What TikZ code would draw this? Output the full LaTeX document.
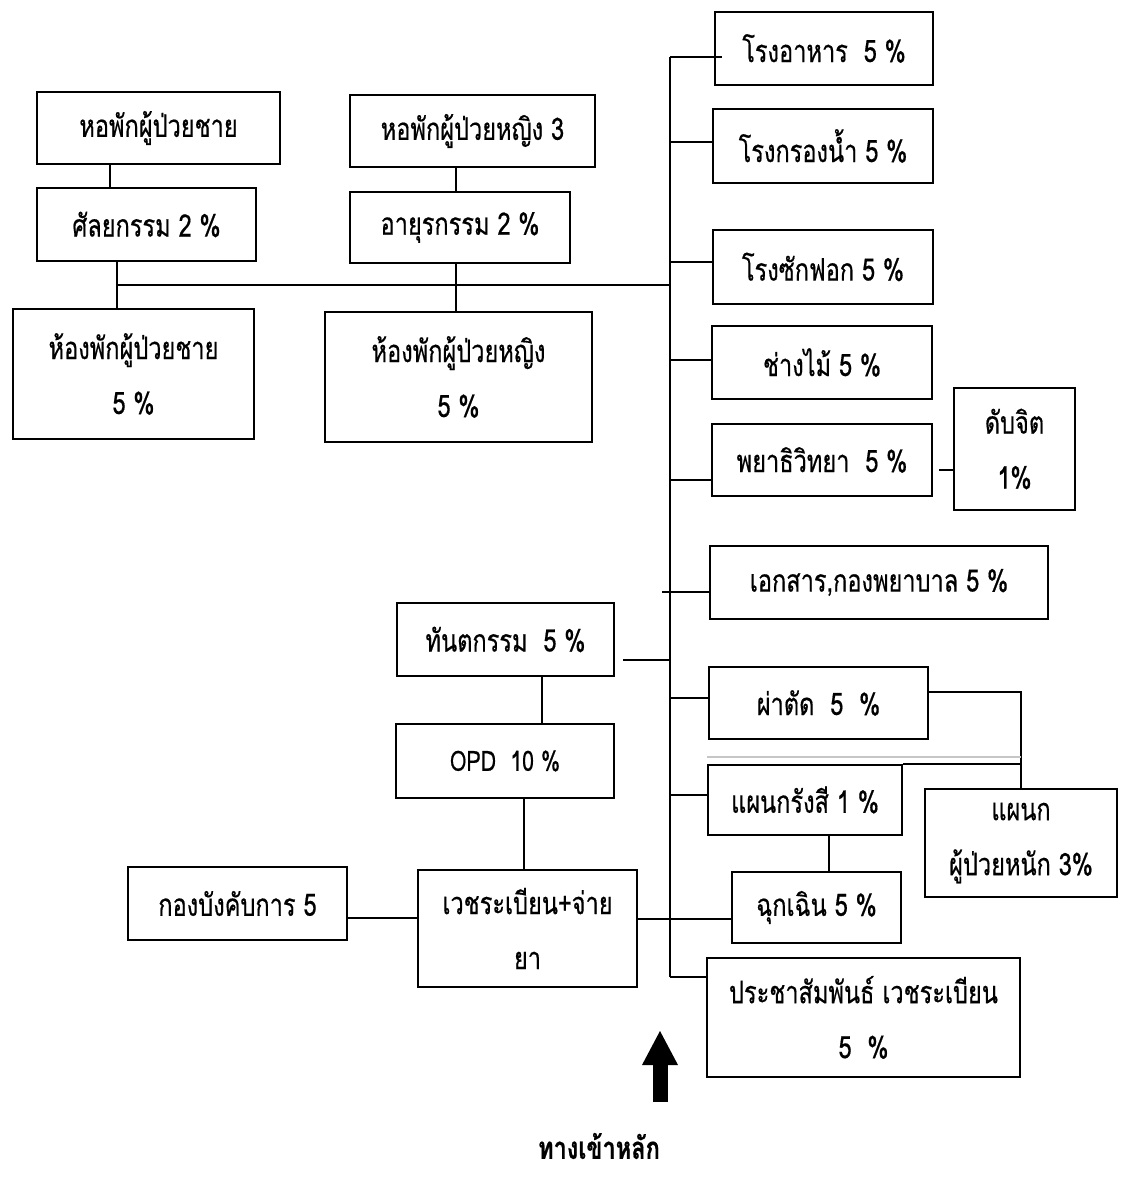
\documentclass[tikz,border=0pt]{standalone}
\usepackage{fontspec}
\usepackage{tikz}
\usetikzlibrary{arrows.meta}
\newfontfamily\thaifont[Script=Thai, FakeStretch=0.76, FakeBold=0.5]{Loma}
\tikzset{
	unit/.style={draw, line width=0.9pt, inner sep=2pt, align=center, font=\thaifont\fontsize{15.5}{27.5}\selectfont},
	link/.style={line width=0.9pt},
}
\newcommand{\unitBox}[7][]{
	\path (#2,#3) node[unit, minimum width=#4*0.5pt, minimum height=#5*0.5pt, #1](#6){#7};
}
\newcommand{\edge}[3][]{
	\draw[link, #1] (#2) -- (#3);
}
\newcommand{\branch}[3][]{
	\draw[link, #1] (trunk |- 0,#2) -- (#3.west |- 0,#2);
}

\begin{document}
\begin{tikzpicture}[x=0.5pt, y=-0.5pt]
	\useasboundingbox (0,0) rectangle (1126,1178);

	\unitBox{158.5}{128}{243}{72}{wardM}{หอพักผู้ป่วยชาย};
	\unitBox{146.5}{224.5}{219}{73}{surg}{ศัลยกรรม 2 \%};
	\unitBox{133.5}{374}{241}{130}{roomM}{ห้องพักผู้ป่วยชาย\\5 \%};
	\unitBox{472.5}{131}{245}{72}{wardF}{หอพักผู้ป่วยหญิง 3};
	\unitBox{460}{227.5}{220}{71}{med}{อายุรกรรม 2 \%};
	\unitBox{458.5}{377}{267}{130}{roomF}{ห้องพักผู้ป่วยหญิง\\5 \%};

	\unitBox{824}{48.5}{218}{73}{food}{โรงอาหาร\ \ 5 \%};
	\unitBox{823}{146}{220}{74}{water}{โรงกรองน้ำ 5 \%};
	\unitBox{823}{267}{220}{74}{laundry}{โรงซักฟอก 5 \%};
	\unitBox{822}{362.5}{220}{73}{carpentry}{ช่างไม้ 5 \%};
	\unitBox{822}{460}{220}{72}{patho}{พยาธิวิทยา\ \ 5 \%};
	\unitBox{1014.5}{449}{121}{122}{morgue}{ดับจิต\\1\%};
	\unitBox{879}{582.5}{338}{73}{records}{เอกสาร,กองพยาบาล 5 \%};
	\unitBox{818.5}{703}{219}{72}{surgery}{ผ่าตัด\ \ 5\ \ \%};
	\unitBox{805}{800}{194}{70}{xray}{แผนกรังสี 1 \%};
	\unitBox{1021}{843}{192}{108}{icu}{แผนก\\ผู้ป่วยหนัก 3\%};
	\unitBox{816.5}{907.5}{169}{71}{er}{ฉุกเฉิน 5 \%};
	\unitBox{863.5}{1017.5}{313}{119}{pr}{ประชาสัมพันธ์ เวชระเบียน\\5\ \ \%};

	\unitBox{505.5}{639.5}{217}{73}{dental}{ทันตกรรม\ \ 5 \%};
	\unitBox[font=\thaifont\fontsize{14}{16}\selectfont]{505}{761}{218}{74}{opd}{OPD\ \ 10 \%};
	\unitBox{527.5}{928.5}{219}{117}{recmed}{เวชระเบียน+จ่าย\\ยา};
	\unitBox{237.5}{903.5}{219}{73}{command}{กองบังคับการ 5};

	\coordinate (trunk) at (670,57);
	\coordinate (trunkEnd) at (670,977);
	\coordinate (wardJ) at (117,285);
	\edge{trunk}{trunkEnd};
	\edge{wardJ}{trunk |- wardJ};

	\edge{wardM.south -| 110,0}{surg.north -| 110,0};
	\edge{surg.south -| wardJ}{roomM.north -| wardJ};
	\edge{wardF.south -| 456,0}{med.north -| 456,0};
	\edge{med.south -| 456,0}{roomF.north -| 456,0};

	\branch[shorten >=-4pt]{57}{food};
	\branch{142}{water};
	\branch{262}{laundry};
	\branch{360}{carpentry};
	\branch{480}{patho};
	\branch[shorten <=-4pt]{592}{records};
	\branch{698}{surgery};
	\branch{795}{xray};
	\branch{977}{pr};

	\edge[shorten <=3pt]{patho.east |- 0,470}{morgue.west |- 0,470};
	\edge[shorten <=4pt]{dental.east |- 0,660}{trunk |- 0,660};
	\draw[link] (surgery.east |- 0,692) -| (icu.north);
	\edge{xray.north east}{xray.north east -| icu.north};
	\edge[gray!45, line width=0.6pt]{xray.north west |- 0,757}{0,757 -| icu.north};
	\edge{xray.south -| 829,0}{er.north -| 829,0};
	\edge{dental.south -| 542,0}{opd.north -| 542,0};
	\edge{opd.south -| 524,0}{recmed.north -| 524,0};
	\edge{command.east |- 0,918}{recmed.west |- 0,918};
	\edge{recmed.east |- 0,919}{er.west |- 0,919};

	\coordinate (entryTail) at (660,1102);
	\coordinate (entryTip) at (660,1031);
	\draw[line width=7.5pt, -{Triangle[length=17pt, width=18pt, line width=0pt]}] (entryTail) -- (entryTip);
	\node[font=\thaifont\bfseries\fontsize{15.5}{18}\selectfont] (entry) at (599,1146) {ทางเข้าหลัก};
\end{tikzpicture}
\end{document}
